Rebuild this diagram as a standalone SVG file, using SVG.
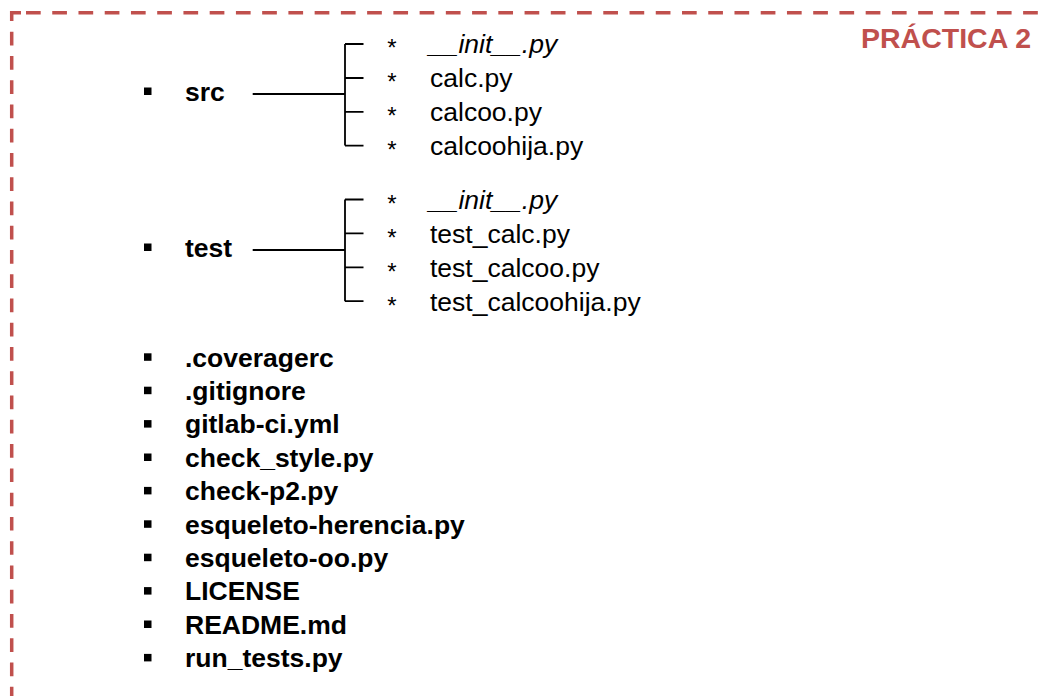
<svg xmlns="http://www.w3.org/2000/svg" width="1041" height="696" viewBox="0 0 1041 696">
<style>
.frame{fill:none;stroke:#C0504D;stroke-width:3.5}
.tree{fill:none;stroke:#000;stroke-width:1.8}
.b{font-family:"Liberation Sans",Arial,sans-serif;font-weight:bold;font-size:26.5px;fill:#000}
.f{font-family:"Liberation Sans",Arial,sans-serif;font-size:26.5px;fill:#000}
.i{font-style:italic}
.ast{font-family:"Liberation Sans",Arial,sans-serif;font-size:24px;fill:#000;text-anchor:middle}
.title{font-family:"Liberation Sans",Arial,sans-serif;font-weight:bold;font-size:28.5px;fill:#C0504D;text-anchor:end}
</style>
<rect width="1041" height="696" fill="#fff"/>
<g id="frame">
<path class="frame" d="M21 12.7 H11.7 V21"/>
<line class="frame" x1="26" y1="12.7" x2="1041" y2="12.7" stroke-dasharray="14.7 11.54"/>
<line class="frame" x1="11.7" y1="31.7" x2="11.7" y2="696" stroke-dasharray="13.7 10.56"/>
<text class="title" x="1031" y="48">PRÁCTICA 2</text>
</g>
<g id="connectors">
<path class="tree" d="M252.7 94 H345 M345 44 V145.6 M345 44 H363.5 M345 78 H363.5 M345 111.8 H363.5 M345 145.6 H363.5"/>
<path class="tree" d="M252.7 250 H345 M345 199.5 V301.2 M345 199.5 H363.5 M345 233.4 H363.5 M345 267.3 H363.5 M345 301.2 H363.5"/>
</g>
<g id="src">
<rect x="144" y="87.5" width="7.5" height="7.5"/>
<text class="b" x="185" y="100.5">src</text>
</g>
<g id="src-files">
<text class="ast" x="392" y="56">*</text><text class="f i" x="429" y="53">__init__.py</text>
<text class="ast" x="392" y="89.9">*</text><text class="f" x="430" y="87">calc.py</text>
<text class="ast" x="392" y="123.8">*</text><text class="f" x="430" y="120.8">calcoo.py</text>
<text class="ast" x="392" y="157.7">*</text><text class="f" x="430" y="154.6">calcoohija.py</text>
</g>
<g id="test">
<rect x="144" y="243.5" width="7.5" height="7.5"/>
<text class="b" x="185" y="256.5">test</text>
</g>
<g id="test-files">
<text class="ast" x="392" y="211.8">*</text><text class="f i" x="429" y="209">__init__.py</text>
<text class="ast" x="392" y="245.7">*</text><text class="f" x="430" y="242.9">test_calc.py</text>
<text class="ast" x="392" y="279.6">*</text><text class="f" x="430" y="276.8">test_calcoo.py</text>
<text class="ast" x="392" y="313.5">*</text><text class="f" x="430" y="310.7">test_calcoohija.py</text>
</g>
<g id="files">
<rect x="144" y="353.3" width="7.5" height="7.5"/><text class="b" x="185" y="366.5">.coveragerc</text>
<rect x="144" y="386.7" width="7.5" height="7.5"/><text class="b" x="185" y="399.9">.gitignore</text>
<rect x="144" y="420.1" width="7.5" height="7.5"/><text class="b" x="185" y="433.3">gitlab-ci.yml</text>
<rect x="144" y="453.5" width="7.5" height="7.5"/><text class="b" x="185" y="466.7">check_style.py</text>
<rect x="144" y="486.9" width="7.5" height="7.5"/><text class="b" x="185" y="500.1">check-p2.py</text>
<rect x="144" y="520.3" width="7.5" height="7.5"/><text class="b" x="185" y="533.5">esqueleto-herencia.py</text>
<rect x="144" y="553.7" width="7.5" height="7.5"/><text class="b" x="185" y="566.9">esqueleto-oo.py</text>
<rect x="144" y="587.1" width="7.5" height="7.5"/><text class="b" x="185" y="600.3">LICENSE</text>
<rect x="144" y="620.5" width="7.5" height="7.5"/><text class="b" x="185" y="633.7">README.md</text>
<rect x="144" y="653.9" width="7.5" height="7.5"/><text class="b" x="185" y="667.1">run_tests.py</text>
</g>
</svg>
